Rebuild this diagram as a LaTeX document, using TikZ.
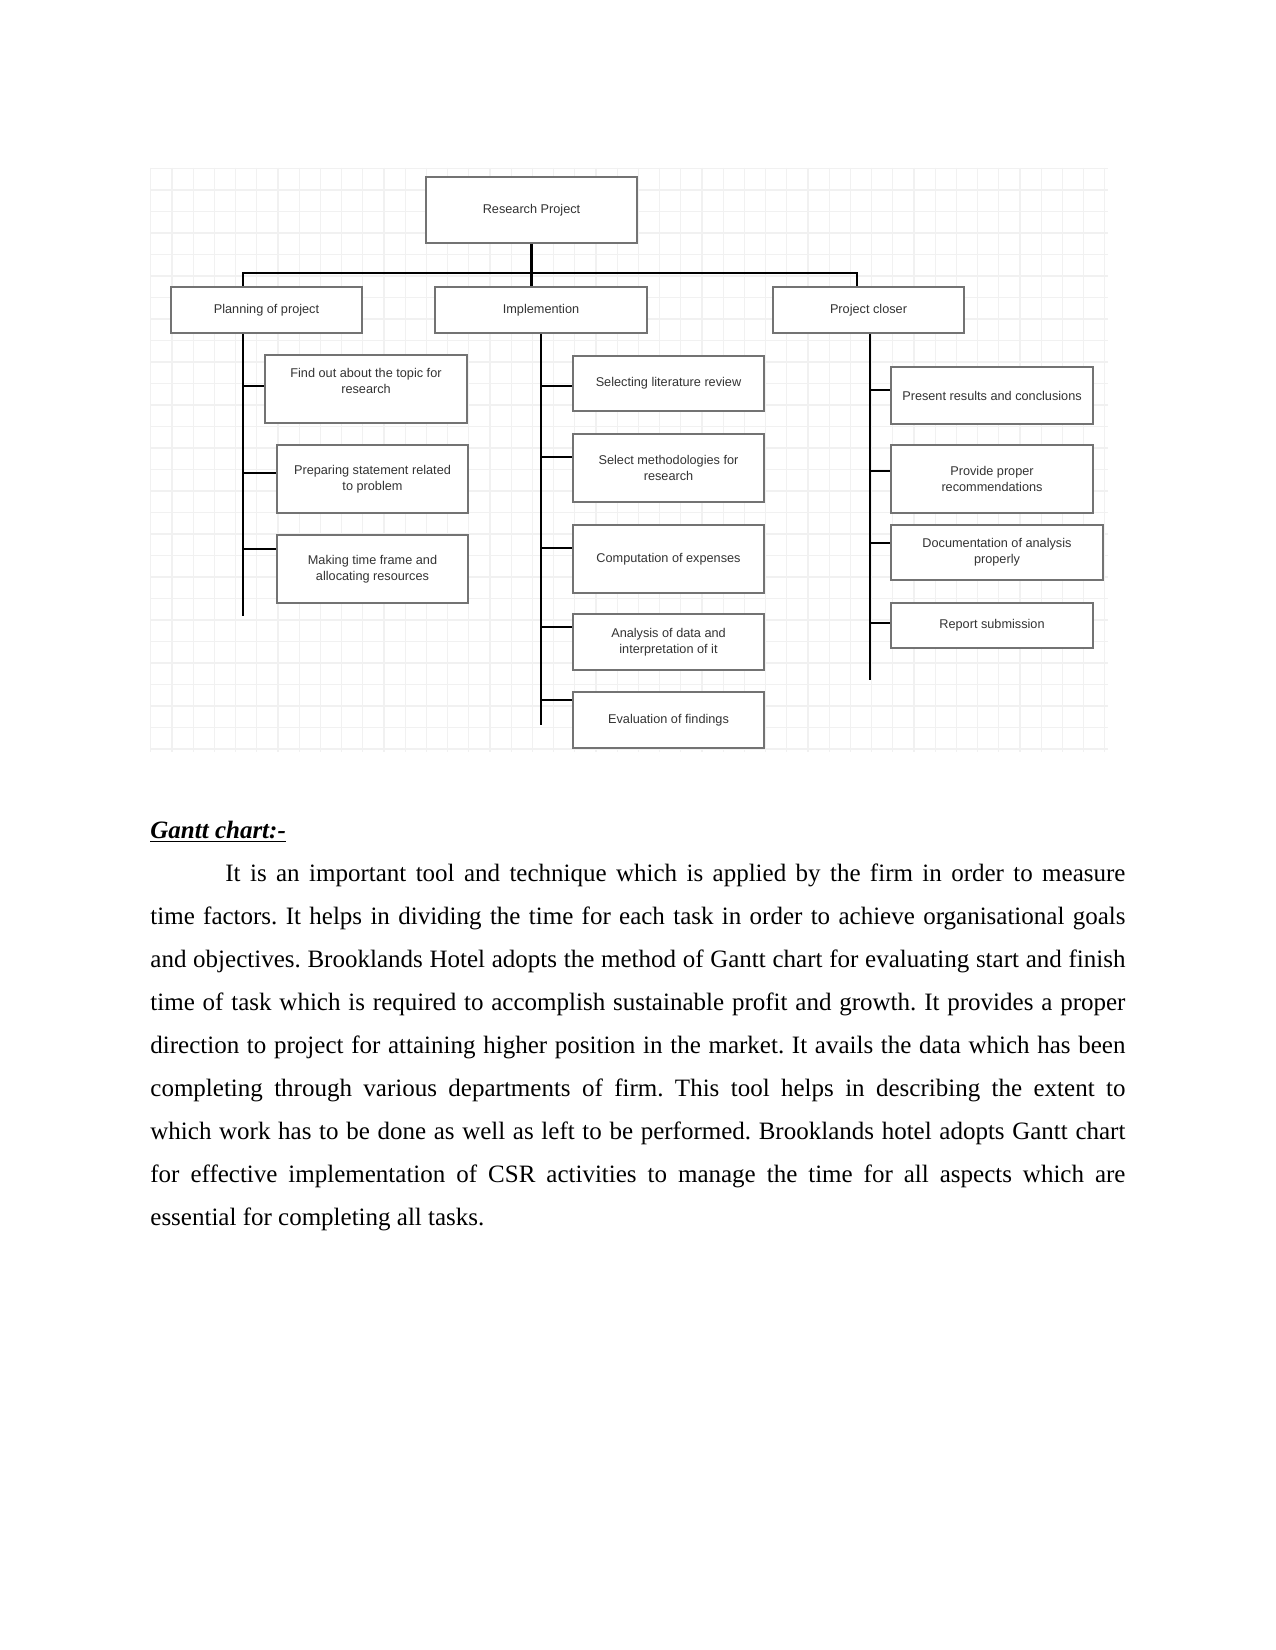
\documentclass[tikz,border=0pt]{standalone}
\usepackage{fontspec}
\setmainfont{Liberation Serif}
\newfontfamily\chartfont{Liberation Sans}

\begin{document}
\begin{tikzpicture}[x=0.48pt,y=-0.48pt,
  blk/.style={draw=black!55,line width=0.9pt,fill=white,align=center,inner sep=1pt,
    font=\chartfont\fontsize{6.1}{7.7}\selectfont,text=black!80},
  wire/.style={line width=1.1pt,black}]
\fill[white] (0,0) rectangle (1275,1650);
\foreach \i in {-1,...,44} \draw[gray!11,line width=0.5pt] (172+\i*21.2,168) -- (172+\i*21.2,752);
\foreach \j in {-1,...,26} \draw[gray!11,line width=0.5pt] (150,190+\j*21.5) -- (1108,190+\j*21.5);

\node[blk,minimum width=101.3pt,minimum height=31.7pt] (root) at (531.5,210) {Research Project};
\node[blk,minimum width=91.7pt,minimum height=22.1pt] (plan) at (266.5,310) {Planning of project};
\node[blk,minimum width=101.8pt,minimum height=22.1pt] (impl) at (541,310) {Implemention};
\node[blk,minimum width=91.7pt,minimum height=22.1pt] (close) at (868.5,310) {Project closer};

\node[blk,minimum width=97pt,minimum height=32.6pt] (find) at (366,389) {Find out about the topic for\\research\\\mbox{}};
\node[blk,minimum width=91.7pt,minimum height=32.6pt] (prep) at (372.5,479) {Preparing statement related\\to problem};
\node[blk,minimum width=91.7pt,minimum height=32.6pt] (making) at (372.5,569) {Making time frame and\\allocating resources};

\node[blk,minimum width=91.7pt,minimum height=26.4pt] (lit) at (668.5,383.5) {Selecting literature review};
\node[blk,minimum width=91.7pt,minimum height=32.6pt] (meth) at (668.5,468) {Select methodologies for\\research};
\node[blk,minimum width=91.7pt,minimum height=32.6pt] (cost) at (668.5,559) {Computation of expenses};
\node[blk,minimum width=91.7pt,minimum height=26.9pt] (data) at (668.5,642) {Analysis of data and\\interpretation of it};
\node[blk,minimum width=91.7pt,minimum height=26.9pt] (eval) at (668.5,720) {Evaluation of findings};

\node[blk,minimum width=97pt,minimum height=27.4pt] (res) at (992,395.5) {Present results and conclusions};
\node[blk,minimum width=97pt,minimum height=32.6pt] (rec) at (992,479) {Provide proper\\recommendations};
\node[blk,minimum width=101.8pt,minimum height=26.4pt] (doc) at (997,552.5) {Documentation of analysis\\properly};
\node[blk,minimum width=97pt,minimum height=21.6pt] (sub) at (992,625.5) {Report submission};

\coordinate (busl) at (243,273);
\coordinate (busr) at (857,273);
\draw[wire] (root.south) -- (root.south |- busl);
\draw[wire] (busl |- plan.north) -- (busl) -- (busr) -- (busr |- close.north);
\draw[wire] (root.south |- busl) -- (root.south |- impl.north);

\coordinate (pbot) at (243,616);
\coordinate (ibot) at (541,725);
\coordinate (cbot) at (870,680);
\draw[wire] (pbot |- plan.south) -- (pbot);
\draw[wire] (ibot |- impl.south) -- (ibot);
\draw[wire] (cbot |- close.south) -- (cbot);
\foreach \n/\y in {find/386,prep/473,making/549}
  \draw[wire] (pbot |- 0,\y) -- (\n.west |- 0,\y);
\foreach \n/\y in {lit/386,meth/457,cost/548,data/627,eval/700}
  \draw[wire] (ibot |- 0,\y) -- (\n.west |- 0,\y);
\foreach \n/\y in {res/390,rec/471,doc/543,sub/623}
  \draw[wire] (cbot |- 0,\y) -- (\n.west |- 0,\y);

\node[anchor=base west,inner sep=0pt,font=\fontsize{12}{14}\selectfont\bfseries\itshape] (title) at (150,838) {\underline{Gantt chart:-}};
\node[anchor=base west,inner sep=0pt,text width=468pt,align=justify,font=\fontsize{12}{20.64}\selectfont] (body) at (150,881)
{\frenchspacing\tolerance=9999\emergencystretch=3em\hyphenpenalty=10000
\hspace*{36pt}It is an important tool and technique which is applied by the firm in order to measure\linebreak
time factors. It helps in dividing the time for each task in order to achieve organisational goals\linebreak
and objectives. Brooklands Hotel adopts the method of Gantt chart for evaluating start and finish\linebreak
time of task which is required to accomplish sustainable profit and growth. It provides a proper\linebreak
direction to project for attaining higher position in the market. It avails the data which has been\linebreak
completing through various departments of firm. This tool helps in describing the extent to\linebreak
which work has to be done as well as left to be performed. Brooklands hotel adopts Gantt chart\linebreak
for effective implementation of CSR activities to manage the time for all aspects which are\linebreak
essential for completing all tasks.};
\end{tikzpicture}
\end{document}
